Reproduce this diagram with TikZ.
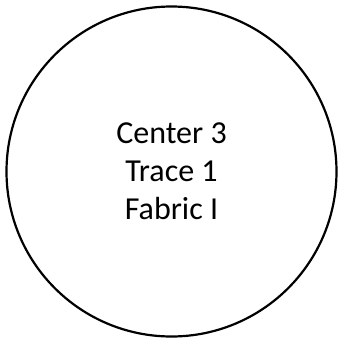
\documentclass[tikz,border=0pt]{standalone}
\usepackage{fontspec}
\setmainfont{Carlito}
\begin{document}
\begin{tikzpicture}[x=1pt,y=-1pt,
  disc/.style={circle,draw=black,line width=2.2pt,inner sep=0pt,minimum size=330pt,
    align=center,font=\fontsize{32}{38}\selectfont}]
\useasboundingbox (0,0) rectangle (339,341);
\node[disc] (c) at (171.5,171.5) {Center 3\\Trace 1\\Fabric I};
\end{tikzpicture}
\end{document}
